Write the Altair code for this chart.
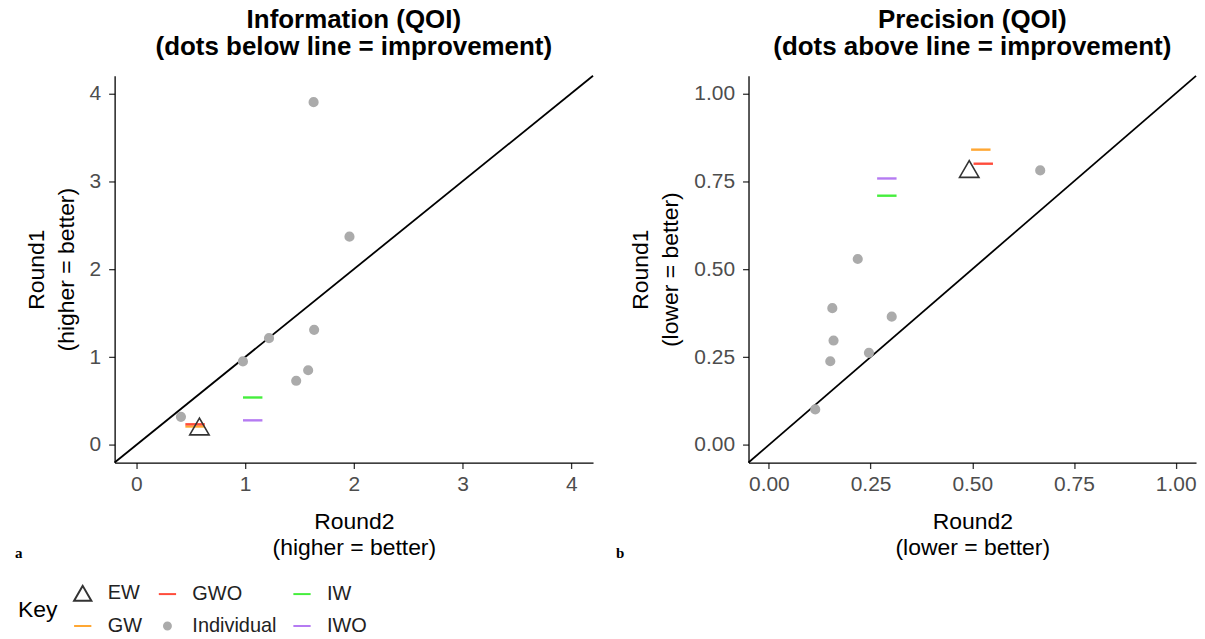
import altair as alt
import pandas as pd

# ---------------- data ----------------
groups = ["EW", "GW", "GWO", "IW", "IWO"]

info_ind_r2 = [1.63, 1.96, 1.635, 1.22, 0.98, 1.58, 1.47, 0.41]
info_ind_r1 = [3.90, 2.37, 1.31, 1.215, 0.95, 0.85, 0.73, 0.32]
info_grp_r2 = [0.58, 0.54, 0.54, 1.07, 1.07]
info_grp_r1 = [0.21, 0.21, 0.235, 0.54, 0.28]

prec_ind_r2 = [0.667, 0.2185, 0.156, 0.302, 0.159, 0.151, 0.246, 0.114]
prec_ind_r1 = [0.781, 0.529, 0.389, 0.365, 0.297, 0.238, 0.262, 0.101]
prec_grp_r2 = [0.4925, 0.521, 0.527, 0.29, 0.29]
prec_grp_r1 = [0.785, 0.84, 0.80, 0.709, 0.758]

info_domain = [-0.2, 4.2]
prec_domain = [-0.05, 1.05]
info_ticks = [0, 1, 2, 3, 4]
prec_ticks = [0, 0.25, 0.5, 0.75, 1.0]

key_order = ["EW", "GW", "GWO", "Individual", "IW", "IWO"]
DOT = "M-0.4,0A0.4,0.4 0 1,0 0.4,0A0.4,0.4 0 1,0 -0.4,0Z"
key_shape = ["triangle-up", "stroke", "stroke", DOT, "stroke", "stroke"]
key_stroke = ["#333333", "#FFA733", "#FF4C3B", "#ABABAB", "#45EE3C", "#B57BF2"]
key_fill = ["transparent", "transparent", "transparent", "#ABABAB", "transparent", "transparent"]

FONT = "Liberation Sans"


def make_df(ind_r2, ind_r1, grp_r2, grp_r1):
    rows = []
    for a, b in zip(ind_r2, ind_r1):
        rows.append({"Round2": a, "Round1": b, "Key": "Individual"})
    for g, a, b in zip(groups, grp_r2, grp_r1):
        rows.append({"Round2": a, "Round1": b, "Key": g})
    return pd.DataFrame(rows)


enc_key = dict(
    shape=alt.Shape("Key:N", scale=alt.Scale(domain=key_order, range=key_shape),
                    legend=alt.Legend(title="Key")),
    stroke=alt.Stroke("Key:N", scale=alt.Scale(domain=key_order, range=key_stroke),
                      legend=alt.Legend(title="Key")),
    fill=alt.Fill("Key:N", scale=alt.Scale(domain=key_order, range=key_fill),
                  legend=alt.Legend(title="Key")),
)


def panel(df, domain, ticks, fmt, title, xtitle, ytitle, w, letter, letter_x):
    xs = alt.Scale(domain=domain, nice=False, zero=False)
    ys = alt.Scale(domain=domain, nice=False, zero=False)
    xax = alt.Axis(values=ticks, format=fmt, title=xtitle, titleLineHeight=26,
                   labelPadding=5, titlePadding=16)
    yax = alt.Axis(values=ticks, format=fmt, title=ytitle, titleLineHeight=30,
                   labelPadding=8, titlePadding=11)
    line_df = pd.DataFrame({"Round2": domain, "Round1": domain})
    diag = alt.Chart(line_df).mark_line(color="black", strokeWidth=1.8).encode(
        x=alt.X("Round2:Q", scale=xs, axis=xax),
        y=alt.Y("Round1:Q", scale=ys, axis=yax),
    )
    base = alt.Chart(df).encode(
        x=alt.X("Round2:Q", scale=xs, axis=xax),
        y=alt.Y("Round1:Q", scale=ys, axis=yax),
        **enc_key,
    )
    others = base.mark_point(filled=False, strokeWidth=2.4, opacity=1, size=380).transform_filter(
        alt.datum.Key != "EW")
    tri = base.mark_point(filled=False, strokeWidth=1.6, opacity=1, size=380).transform_filter(
        alt.datum.Key == "EW")
    lab = alt.Chart(pd.DataFrame({"t": [letter]})).mark_text(
        font="Liberation Serif", fontWeight="bold", fontSize=15, align="left",
        baseline="alphabetic", color="black"
    ).encode(x=alt.value(letter_x), y=alt.value(484), text="t:N")
    return alt.layer(diag, others, tri, lab).properties(
        width=w, height=388,
        title=alt.TitleParams(title, anchor="middle", fontSize=26, fontWeight="bold",
                              font=FONT, lineHeight=27, offset=12, color="black"),
    )


left = panel(make_df(info_ind_r2, info_ind_r1, info_grp_r2, info_grp_r1),
             info_domain, info_ticks, "d",
             ["Information (QOI)", "(dots below line = improvement)"],
             ["Round2", "(higher = better)"], ["Round1", "(higher = better)"],
             480, "a", -100)
right = panel(make_df(prec_ind_r2, prec_ind_r1, prec_grp_r2, prec_grp_r1),
              prec_domain, prec_ticks, ".2f",
              ["Precision (QOI)", "(dots above line = improvement)"],
              ["Round2", "(lower = better)"], ["Round1", "(lower = better)"],
              449, "b", -133)

chart = alt.hconcat(left, right, spacing=19).resolve_scale(
    x="independent", y="independent"
).configure(
    font=FONT,
    padding={"left": 15, "top": 6, "right": 5, "bottom": 5},
).configure_view(stroke=None).configure_axis(
    grid=False, domainColor="black", domainWidth=1.3, tickColor="#333333",
    tickWidth=1.3, tickSize=6, labelColor="#4D4D4D", labelFontSize=21,
    labelFont=FONT, titleFont=FONT, titleFontSize=23, titleFontWeight="normal",
    titleColor="black",
).configure_legend(
    orient="none", legendX=-97, legendY=509, columns=3, titleOrient="left",
    titleAnchor="middle", titleBaseline="middle", titleFontSize=23,
    titleFontWeight="normal", titleFont=FONT, titleColor="black",
    labelFontSize=20, labelFont=FONT, labelColor="#222222", symbolStrokeWidth=2,
    symbolSize=300, columnPadding=12, rowPadding=11, labelOffset=15, titlePadding=15,
)

chart.save("out.html", embed_options={"renderer": "svg", "actions": False})
